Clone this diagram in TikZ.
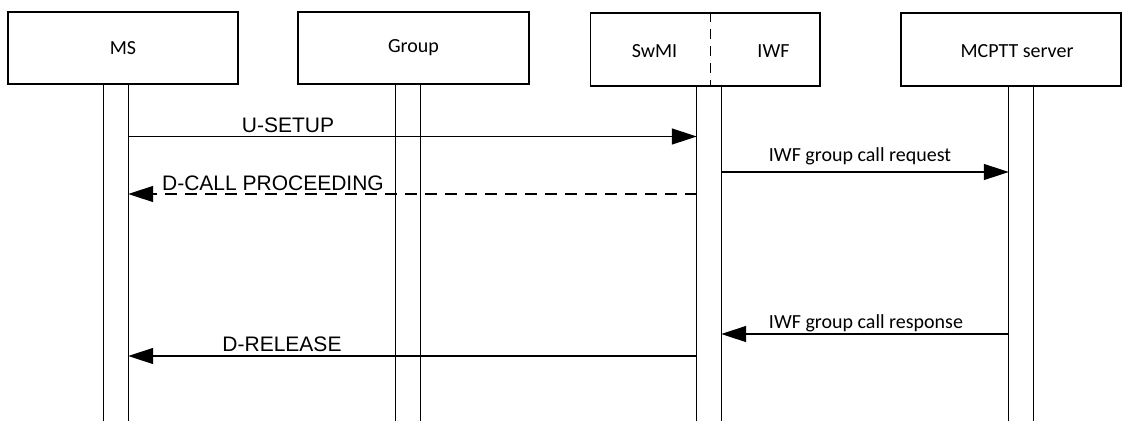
\documentclass[tikz,border=0pt]{standalone}
\usepackage{fontspec}
\setmainfont{Carlito}
\newfontfamily\arialfont{Liberation Sans}
\usetikzlibrary{arrows.meta,calc}
\tikzset{
  actor/.style={draw, line width=1.3pt, minimum width=230pt, minimum height=72pt, inner sep=0pt, font=\fontsize{20}{24}\selectfont},
  lifebar/.style={draw=none, minimum width=24pt, inner sep=0pt, anchor=north},
  barline/.style={line width=1.3pt},
  msg/.style={line width=1.3pt, -{Triangle[length=25pt,width=16pt]}},
  dmsg/.style={msg, dash pattern=on 12pt off 8pt},
  alabel/.style={font=\arialfont\fontsize{21}{24}\selectfont, inner sep=0pt, anchor=base},
  clabel/.style={font=\fontsize{20}{24}\selectfont, inner sep=0pt, anchor=base},
}
\begin{document}
\begin{tikzpicture}[x=1pt,y=-1pt]
\useasboundingbox (0,0) rectangle (1122,421);
% actor boxes
\node[actor] (ms) at (123,48) {MS};
\node[actor, minimum width=231pt] (grp) at (413.5,48) {Group};
\node[actor, minimum width=229.5pt, minimum height=73pt] (sw) at (705.25,49.5) {};
\node[clabel] (swl) at (654.5,57) {SwMI};
\node[clabel] (iwfl) at (773.5,57) {IWF};
\draw[line width=1.3pt, dash pattern=on 10pt off 7pt] ($(sw.north)+(5.5,0)$) coordinate (dtop) -- (dtop |- sw.south);
\node[actor, minimum width=220pt, minimum height=73pt] (mc) at (1011,49.5) {};
\node[clabel] (mcl) at (1017,57) {MCPTT server};
% lifeline bars
\node[lifebar, minimum height=337pt] (msbar) at (116,84) {};
\node[lifebar, minimum height=337pt] (grpbar) at (408,84) {};
\node[lifebar, minimum height=335pt] (swbar) at (709,86) {};
\node[lifebar, minimum height=335pt] (mcbar) at (1021,86) {};
\foreach \b in {msbar,grpbar,swbar,mcbar}{
  \draw[barline] (\b.south west) |- (\b.north east) -- (\b.south east);
}
% message rows
\coordinate (r1) at (0,136.5);
\coordinate (r2) at (0,172);
\coordinate (r3) at (0,194);
\coordinate (r4) at (0,334);
\coordinate (r5) at (0,356);
\draw[msg] (msbar.east |- r1) -- (swbar.west |- r1);
\node[alabel] (l1) at (288,132) {U-SETUP};
\draw[msg] (swbar.east |- r2) -- (mcbar.west |- r2);
\node[clabel] (l2) at (860,161) {IWF group call request};
\draw[dmsg] (swbar.west |- r3) -- (msbar.east |- r3);
\node[alabel] (l3) at (273,190.5) {D-CALL PROCEEDING};
\draw[msg] (mcbar.west |- r4) -- (swbar.east |- r4);
\node[clabel] (l4) at (866,328) {IWF group call response};
\draw[msg] (swbar.west |- r5) -- (msbar.east |- r5);
\node[alabel] (l5) at (282,351.5) {D-RELEASE};
\end{tikzpicture}
\end{document}
